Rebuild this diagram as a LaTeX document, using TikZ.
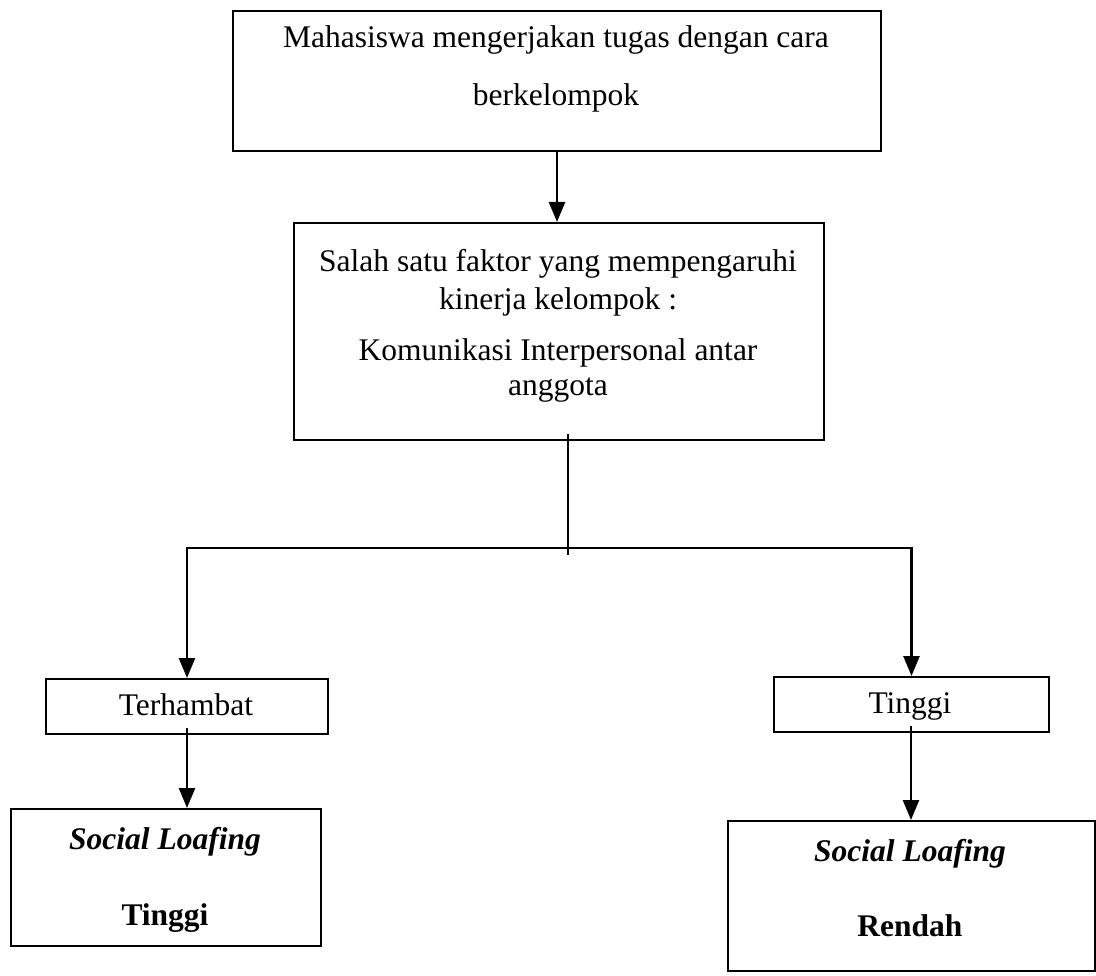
\documentclass[tikz,border=0pt]{standalone}
\usepackage{fontspec}
\setmainfont{Liberation Serif}
\usetikzlibrary{arrows.meta,calc}
\begin{document}
\begin{tikzpicture}[x=1pt,y=1pt,
  box/.style={draw, line width=2pt, inner sep=0pt, anchor=north west},
  txt/.style={font=\fontsize{31.5}{36}\selectfont, inner sep=0pt, anchor=base},
  btxt/.style={txt, font=\fontsize{31.5}{36}\selectfont\bfseries},
  bitxt/.style={txt, font=\fontsize{31.5}{36}\selectfont\bfseries\itshape},
  arr/.style={line width=2.6pt, line join=miter, -{Triangle[width=16pt,length=20pt]}},
  thin/.style={line width=1.5pt}]
\useasboundingbox (0,0) rectangle (1096,-976);
% boxes
\node[box, minimum width=648, minimum height=140] (top) at (232,-10) {};
\node[box, minimum width=530, minimum height=217] (mid) at (293,-222) {};
\node[box, minimum width=282, minimum height=55] (ter) at (45,-678) {};
\node[box, minimum width=275, minimum height=55] (tin) at (773,-676) {};
\node[box, minimum width=310, minimum height=137] (bl) at (10,-808) {};
\node[box, minimum width=367, minimum height=150] (br) at (727,-820) {};
% texts
\node[txt] (t1) at (556,-48) {Mahasiswa mengerjakan tugas dengan cara};
\node[txt] (t2) at (556,-106) {berkelompok};
\node[txt] (m1) at (558,-272) {Salah satu faktor yang mempengaruhi};
\node[txt] (m2) at (558,-310) {kinerja kelompok :};
\node[txt] (m3) at (558,-361) {Komunikasi Interpersonal antar};
\node[txt] (m4) at (558,-396) {anggota};
\node[txt] (tt) at (186,-715) {Terhambat};
\node[txt] (ti) at (910,-713) {Tinggi};
\node[bitxt] (b1) at (165,-849) {Social Loafing};
\node[btxt] (b2) at (165,-925) {Tinggi};
\node[bitxt] (b3) at (910,-861) {Social Loafing};
\node[btxt] (b4) at (910,-936) {Rendah};
% connectors
\coordinate (j) at (568,-548);
\draw[arr] (top.south) -- (top.south |- mid.north);
\draw[thin] ([yshift=7]mid.south -| j) -- ([yshift=-7]j);
\draw[arr] (j) -| (ter.north);
\draw[arr] (j) -| (tin.north);
\draw[arr] ([yshift=7]ter.south) -- (ter.south |- bl.north);
\draw[arr] ([xshift=-0.5,yshift=7]tin.south) -- ([xshift=-0.5]tin.south |- br.north);
\end{tikzpicture}
\end{document}
